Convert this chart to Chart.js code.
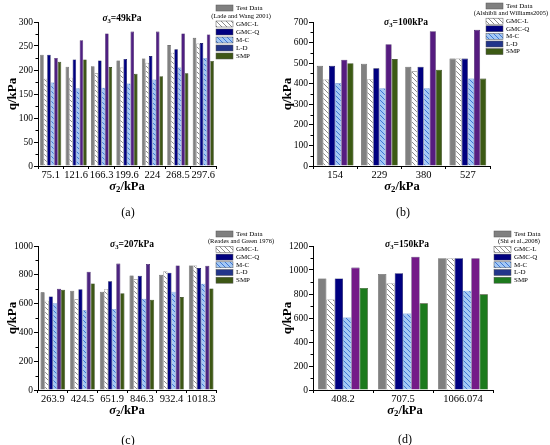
<!DOCTYPE html>
<html lang="en">
<head>
<meta charset="UTF-8">
<title>q vs sigma2</title>
<script src="https://cdn.jsdelivr.net/npm/chart.js"></script>
<style>
  body { margin:0; background:#fff; font-family:"Liberation Serif","Times New Roman",serif; }
  #wrap { position:relative; width:550px; height:445px; background:#fff; }
  .panel { position:absolute; width:275px; }
  .panel canvas { position:absolute; left:0; top:0; }
  .lbl { position:absolute; transform:translate(-50%,-50%); white-space:nowrap; color:#000; line-height:1; }
  .lbl sub { font-size:70%; vertical-align:-2px; }
  .xt { font-weight:bold; font-size:12.5px; }
  .st { font-weight:bold; font-size:9.5px; }
  .pl { font-size:12px; }
</style>
</head>
<body>
<div id="wrap">
  <div class="panel" style="left:0;top:0;height:222px">
    <canvas id="ca" width="275" height="222"></canvas>
    <div class="lbl st" style="left:122px;top:19px"><i>σ</i><sub>3</sub>=49kPa</div>
    <div class="lbl xt" style="left:127px;top:187px"><i>σ</i><sub>2</sub>/kPa</div>
    <div class="lbl pl" style="left:128px;top:212px">(a)</div>
  </div>
  <div class="panel" style="left:275px;top:0;height:222px">
    <canvas id="cb" width="275" height="222"></canvas>
    <div class="lbl st" style="left:131px;top:23px"><i>σ</i><sub>3</sub>=100kPa</div>
    <div class="lbl xt" style="left:127px;top:187px"><i>σ</i><sub>2</sub>/kPa</div>
    <div class="lbl pl" style="left:128px;top:212px">(b)</div>
  </div>
  <div class="panel" style="left:0;top:222px;height:223px">
    <canvas id="cc" width="275" height="223"></canvas>
    <div class="lbl st" style="left:132px;top:23px"><i>σ</i><sub>3</sub>=207kPa</div>
    <div class="lbl xt" style="left:127px;top:189px"><i>σ</i><sub>2</sub>/kPa</div>
    <div class="lbl pl" style="left:128px;top:218px">(c)</div>
  </div>
  <div class="panel" style="left:275px;top:222px;height:223px">
    <canvas id="cd" width="275" height="223"></canvas>
    <div class="lbl st" style="left:132px;top:23px"><i>σ</i><sub>3</sub>=150kPa</div>
    <div class="lbl xt" style="left:130px;top:189px"><i>σ</i><sub>2</sub>/kPa</div>
    <div class="lbl pl" style="left:130px;top:217px">(d)</div>
  </div>
</div>
<script>
const seriesNames = ['Test Data', 'GMC-L', 'GMC-Q', 'M-C', 'L-D', 'SMP'];

// (a) sigma3 = 49 kPa
const catsA = ['75.1', '121.6', '166.3', '199.6', '224', '268.5', '297.6'];
const testA = [232, 207, 208, 220, 224, 252, 267];
const gmclA = [182, 184, 193, 205, 215, 236, 255];
const gmcqA = [232, 222, 220, 223, 229, 243, 256];
const mcA   = [174, 162, 163, 172, 180, 205, 225];
const ldA   = [225, 262, 276, 280, 280, 276, 274];
const smpA  = [217, 222, 206, 192, 187, 193, 219];

// (b) sigma3 = 100 kPa
const catsB = ['154', '229', '380', '527'];
const testB = [487, 497, 482, 522];
const gmclB = [420, 422, 460, 522];
const gmcqB = [487, 475, 482, 522];
const mcB   = [402, 378, 378, 425];
const ldB   = [517, 592, 655, 662];
const smpB  = [500, 520, 468, 425];

// (c) sigma3 = 207 kPa
const catsC = ['263.9', '424.5', '651.9', '846.3', '932.4', '1018.3'];
const testC = [678, 690, 683, 795, 800, 865];
const gmclC = [620, 630, 700, 770, 825, 865];
const gmcqC = [650, 700, 755, 793, 815, 847];
const mcC   = [603, 553, 563, 633, 683, 738];
const ldC   = [703, 822, 878, 875, 865, 862];
const smpC  = [697, 740, 672, 627, 645, 705];

// (d) sigma3 = 150 kPa
const catsD = ['408.2', '707.5', '1066.074'];
const testD = [930, 967, 1098];
const gmclD = [755, 890, 1098];
const gmcqD = [930, 973, 1098];
const mcD   = [605, 637, 828];
const ldD   = [1020, 1110, 1098];
const smpD  = [850, 722, 797];

const FONT = '"Liberation Serif", "Times New Roman", serif';

function hatch(bg, fg) {
  const c = document.createElement('canvas');
  c.width = c.height = 5;
  const g = c.getContext('2d');
  g.fillStyle = bg;
  g.fillRect(0, 0, 5, 5);
  g.strokeStyle = fg;
  g.lineWidth = 1;
  g.beginPath();
  g.moveTo(-1, -1); g.lineTo(6, 6);
  g.moveTo(-1, 4);  g.lineTo(1, 6);
  g.moveTo(4, -1);  g.lineTo(6, 1);
  g.stroke();
  return g.createPattern(c, 'repeat');
}

const boxLegend = {
  id: 'boxLegend',
  afterDraw(chart, args, o) {
    const ctx = chart.ctx;
    ctx.save();
    ctx.textBaseline = 'middle';
    let y = o.y;
    chart.data.datasets.forEach((ds, i) => {
      ctx.fillStyle = ds.legendColor || ds.backgroundColor;
      ctx.fillRect(o.x, y - 3, 17, 6);
      ctx.strokeStyle = '#555';
      ctx.lineWidth = 0.5;
      ctx.strokeRect(o.x, y - 3, 17, 6);
      ctx.fillStyle = '#000';
      ctx.font = '7px ' + FONT;
      ctx.textAlign = 'left';
      ctx.fillText(ds.label, o.x + 20, y);
      y += o.step;
      if (i === 0) {
        ctx.font = '6.5px ' + FONT;
        ctx.textAlign = 'center';
        ctx.fillText(o.source, o.x + 25, y);
        y += o.step;
      }
    });
    ctx.restore();
  }
};

const minorTicks = {
  id: 'minorTicks',
  afterDraw(chart, args, o) {
    const s = chart.scales.y;
    const ctx = chart.ctx;
    ctx.save();
    ctx.strokeStyle = '#000';
    ctx.lineWidth = 1;
    ctx.beginPath();
    for (let v = o.step / 2; v < s.max; v += o.step) {
      const p = Math.round(s.getPixelForValue(v)) + 0.5;
      ctx.moveTo(s.right - 2.5, p);
      ctx.lineTo(s.right, p);
    }
    ctx.stroke();
    ctx.restore();
  }
};

function makeChart(id, cats, series, cfg) {
  const styles = [
    { bg: '#808080', bd: '#404040' },
    { bg: hatch('#ffffff', '#8c8c8c'), bd: '#7a7a7a' },
    { bg: '#000080', bd: '#00004a' },
    { bg: hatch('#a4c8f4', '#3f78d6'), bd: '#4a78c8' },
    { bg: cfg.ldColor, bd: '#2e0e50', legend: '#22358a' },
    { bg: cfg.smpColor, bd: '#1f300a' }
  ];
  const datasets = series.map((vals, i) => ({
    label: seriesNames[i],
    data: vals,
    backgroundColor: styles[i].bg,
    borderColor: styles[i].bd,
    borderWidth: 0.6,
    legendColor: styles[i].legend,
    categoryPercentage: 0.83,
    barPercentage: 1.0
  }));
  const h = cfg.height;
  return new Chart(document.getElementById(id), {
    type: 'bar',
    data: { labels: cats, datasets },
    plugins: [boxLegend, minorTicks],
    options: {
      responsive: false,
      animation: false,
      layout: { padding: { left: 0, right: cfg.right, top: cfg.top, bottom: 0 } },
      plugins: {
        legend: { display: false },
        tooltip: { enabled: false },
        boxLegend: { x: cfg.legX, y: cfg.legY, step: cfg.legStep, source: cfg.source },
        minorTicks: { step: cfg.step }
      },
      scales: {
        x: {
          border: { display: true, color: '#000', width: 1 },
          grid: { drawOnChartArea: false, tickLength: 3, color: '#000', offset: true },
          ticks: { color: '#000', font: { family: FONT, size: 10.5 }, padding: 0, maxRotation: 0, autoSkip: false },
          afterFit(s) { s.height = h - cfg.bottom; }
        },
        y: {
          min: 0,
          max: cfg.max,
          border: { display: true, color: '#000', width: 1 },
          grid: { drawOnChartArea: false, tickLength: 4, color: '#000' },
          ticks: { stepSize: cfg.step, color: '#000', font: { family: FONT, size: 9.5 }, padding: 1, callback: v => String(v) },
          title: { display: true, text: 'q/kPa', color: '#000', font: { family: FONT, size: 13, weight: 'bold' }, padding: { top: 5, bottom: 0 } },
          afterFit(s) { s.width = 38; }
        }
      }
    }
  });
}

makeChart('ca', catsA, [testA, gmclA, gmcqA, mcA, ldA, smpA], {
  height: 222, top: 22, bottom: 166, right: 59, max: 300, step: 50,
  ldColor: '#4f1f82', smpColor: '#3e5616',
  legX: 216, legY: 8, legStep: 8, source: '(Lade and Wang 2001)'
});
makeChart('cb', catsB, [testB, gmclB, gmcqB, mcB, ldB, smpB], {
  height: 222, top: 22, bottom: 166, right: 60, max: 700, step: 100,
  ldColor: '#561c80', smpColor: '#3c5a14',
  legX: 211, legY: 6, legStep: 7.6, source: '(Alshibli and Williams2005)'
});
makeChart('cc', catsC, [testC, gmclC, gmcqC, mcC, ldC, smpC], {
  height: 223, top: 24, bottom: 168, right: 59, max: 1000, step: 200,
  ldColor: '#4c2480', smpColor: '#3d5715',
  legX: 216, legY: 12, legStep: 7.7, source: '(Reades and Green 1976)'
});
makeChart('cd', catsD, [testD, gmclD, gmcqD, mcD, ldD, smpD], {
  height: 223, top: 24, bottom: 168, right: 57, max: 1200, step: 200,
  ldColor: '#741a88', smpColor: '#1d7a1d',
  legX: 219, legY: 12, legStep: 7.7, source: '(Shi et al.,2008)'
});
</script>
</body>
</html>
